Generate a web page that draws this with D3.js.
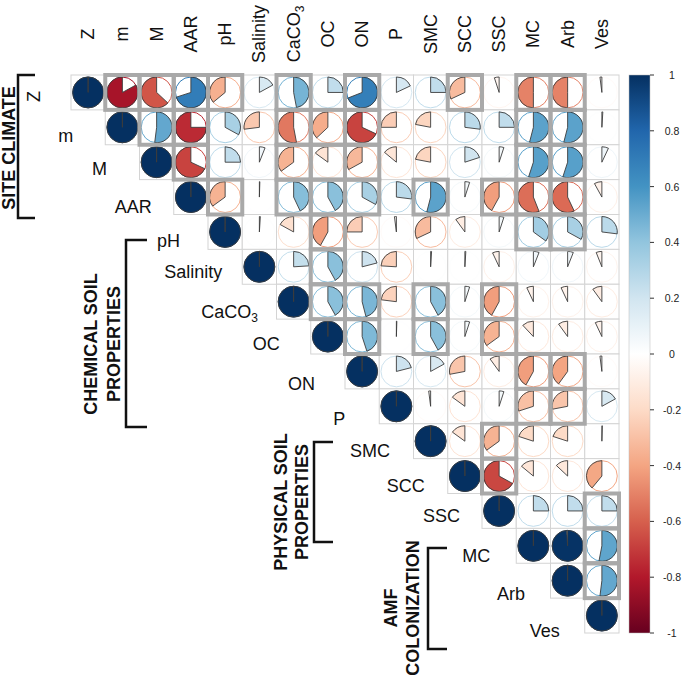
<!DOCTYPE html>
<html><head><meta charset="utf-8">
<script src="https://cdn.jsdelivr.net/npm/d3@7"></script>
<style>body{margin:0;background:#fff}text{font-family:"Liberation Sans",Arial,sans-serif}</style>
</head><body><svg id="c" width="683" height="681"></svg>
<script>
// ---------------- data ----------------
const vars = ["Z","m","M","AAR","pH","Salinity","CaCO3","OC","ON","P","SMC","SCC","SSC","MC","Arb","Ves"];
// upper-triangle correlations, each row starts on the diagonal
const rowZ    = [1, -0.83, -0.63, 0.70, -0.36, 0.17, 0.47, 0.25, 0.69, 0.18, 0.25, -0.32, -0.05, -0.50, -0.50, -0.02];
const rowm    = [1, 0.52, -0.75, 0.33, -0.27, -0.53, -0.37, -0.68, -0.25, -0.22, 0.27, 0.25, 0.54, 0.54, 0.01];
const rowM    = [1, -0.68, 0.25, 0.06, -0.35, -0.15, -0.33, -0.14, -0.22, 0.20, 0.05, 0.55, 0.55, 0.07];
const rowAAR  = [1, -0.35, 0.005, 0.43, 0.42, 0.33, 0.27, 0.54, 0.05, -0.42, -0.56, -0.57, -0.08];
const rowpH   = [1, 0.01, -0.17, -0.42, -0.25, -0.02, -0.32, -0.10, 0.05, 0.35, 0.33, 0.27];
const rowSal  = [1, 0.24, 0.42, 0.21, -0.24, 0.01, 0.01, -0.07, 0.06, 0.06, -0.06];
const rowCaCO3= [1, 0.42, 0.46, -0.23, 0.42, 0.05, -0.42, -0.07, -0.07, -0.10];
const rowOC   = [1, 0.45, 0.005, 0.42, 0.05, -0.35, -0.12, -0.10, -0.07];
const rowON   = [1, 0.21, 0.17, -0.28, -0.10, -0.42, -0.40, -0.02];
const rowP    = [1, -0.02, -0.15, 0.05, -0.30, -0.28, 0.17];
const rowSMC  = [1, -0.15, -0.35, -0.20, -0.20, 0.005];
const rowSCC  = [1, -0.67, -0.14, -0.13, -0.39];
const rowSSC  = [1, 0.25, 0.25, 0.25];
const rowMC   = [1, 0.99, 0.53];
const rowArb  = [1, 0.52];
const rowVes  = [1];
const rows = [rowZ,rowm,rowM,rowAAR,rowpH,rowSal,rowCaCO3,rowOC,rowON,rowP,rowSMC,rowSCC,rowSSC,rowMC,rowArb,rowVes];

// highlighted (boxed) cells, per row
const boxZ = ["m","M","AAR","pH","CaCO3","ON","SCC","MC","Arb"];
const boxm = ["M","AAR","CaCO3","OC","ON","MC","Arb"];
const boxM = ["AAR","CaCO3","OC","ON","MC","Arb"];
const boxAAR = ["pH","CaCO3","OC","ON","SMC","SSC","MC","Arb"];
const boxpH = ["OC","MC","Arb"];
const boxSal = ["OC"];
const boxCaCO3 = ["OC","ON","SMC","SSC"];
const boxOC = ["ON","SMC","SSC"];
const boxON = ["MC","Arb"];
const boxP = ["MC","Arb"];
const boxSMC = ["SSC"];
const boxSCC = ["SSC"];
const boxSSC = ["Ves"];
const boxMC = ["Ves"];
const boxArb = ["Ves"];
const boxVes = [];
const boxes = [boxZ,boxm,boxM,boxAAR,boxpH,boxSal,boxCaCO3,boxOC,boxON,boxP,boxSMC,boxSCC,boxSSC,boxMC,boxArb,boxVes];

const legendTicks = [1,0.8,0.6,0.4,0.2,0,-0.2,-0.4,-0.6,-0.8,-1];
const palette = ["#67001F","#B2182B","#D6604D","#F4A582","#FDDBC7","#FFFFFF","#D1E5F0","#92C5DE","#4393C3","#2166AC","#053061"];

const groups = [
  {lines:["SITE CLIMATE"]},
  {lines:["CHEMICAL SOIL","PROPERTIES"]},
  {lines:["PHYSICAL SOIL","PROPERTIES"]},
  {lines:["AMF","COLONIZATION"]}
];

// ---------------- layout ----------------
const labelGap = [0,32,32.5,22,28,20,18.5,31,30,34,23.5,23,22,26,25.5,25];
const labelDy  = [0,14.7,12.8,16,15,11,16,13.4,18.5,18.6,16,16,11,16,19,21];
const groupPos = [
  {x:[15], y:148},
  {x:[97,120], y:344},
  {x:[287,308], y:502},
  {x:[397,419], y:608}
];
const brackets = [
  {x1:35,x0:18,y0:75,y1:218},
  {x1:147,x0:126,y0:240,y1:427},
  {x1:333,x0:314,y0:442,y1:542},
  {x1:447,x0:428,y0:548,y1:649}
];

// ---------------- drawing ----------------
const svg = d3.select("#c");
svg.append("rect").attr("width",683).attr("height",681).attr("fill","#fff");

const x = d3.scaleBand().domain(vars).range([71,619]);
const y = d3.scaleBand().domain(vars).range([75,633]);
const bw = x.bandwidth(), bh = y.bandwidth();
const R = Math.min(bw,bh)*0.45;
const color = d3.scaleLinear().domain(d3.range(11).map(i=>-1+i*0.2)).range(palette).clamp(true);

const cells = [];
rows.forEach((row,i)=>row.forEach((r,k)=>{
  const j=i+k;
  cells.push({row:vars[i], col:vars[j], r, box: boxes[i].includes(vars[j])});
}));

const g = svg.append("g");
g.selectAll("rect.cell").data(cells).join("rect").attr("class","cell")
  .attr("x",d=>x(d.col)).attr("y",d=>y(d.row)).attr("width",bw).attr("height",bh)
  .attr("fill","#fff").attr("stroke","#d4d4d4").attr("stroke-width",1);

const cg = g.selectAll("g.pie").data(cells).join("g").attr("class","pie")
  .attr("transform",d=>`translate(${x(d.col)+bw/2},${y(d.row)+bh/2})`);
cg.append("circle").attr("r",R).attr("fill","none").attr("stroke",d=>color(d.r)).attr("stroke-width",1);
const arc = d3.arc().innerRadius(0).outerRadius(R).startAngle(0);
cg.append("path")
  .attr("d",d=>arc({endAngle: 2*Math.PI*Math.max(-0.9995,Math.min(0.9995,d.r))}))
  .attr("fill",d=>color(d.r)).attr("stroke","#3c3c3c").attr("stroke-width",0.9).attr("stroke-linejoin","round");

g.selectAll("rect.box").data(cells.filter(d=>d.box)).join("rect").attr("class","box")
  .attr("x",d=>x(d.col)).attr("y",d=>y(d.row)).attr("width",bw).attr("height",bh)
  .attr("fill","none").attr("stroke","#a9a9a9").attr("stroke-width",4);

// column labels
function addLabel(sel, v){
  if(v==="CaCO3"){ sel.text("CaCO"); sel.append("tspan").attr("font-size",12).attr("dy",4).text("3"); }
  else sel.text(v);
}
vars.forEach(v=>{
  const t = svg.append("text").attr("font-size",18).attr("fill","#111").attr("text-anchor","middle")
    .attr("transform",`translate(${x(v)+bw/2+6},34) rotate(-90)`);
  addLabel(t,v);
});
// row labels
vars.forEach((v,i)=>{
  if(i===0){
    svg.append("text").attr("font-size",18).attr("fill","#111").attr("text-anchor","middle")
      .attr("transform",`translate(40,${y(v)+bh/2+4}) rotate(-90)`).text(v);
    return;
  }
  const t = svg.append("text").attr("font-size",18).attr("fill","#111").attr("text-anchor","end")
    .attr("x",x(v)-labelGap[i]).attr("y",y(v)+bh/2+labelDy[i]);
  addLabel(t,v);
});

// group labels and brackets
groups.forEach((gr,k)=>{
  gr.lines.forEach((ln,li)=>{
    svg.append("text").attr("font-size",18).attr("font-weight","bold").attr("fill","#111")
      .attr("text-anchor","middle")
      .attr("transform",`translate(${groupPos[k].x[li]},${groupPos[k].y}) rotate(-90)`).text(ln);
  });
  const b = brackets[k];
  svg.append("path").attr("d",`M${b.x1},${b.y0}H${b.x0}V${b.y1}H${b.x1}`)
    .attr("fill","none").attr("stroke","#111").attr("stroke-width",2.5);
});

// colour legend
const ly = d3.scaleLinear().domain([-1,1]).range([633,75]);
const grad = svg.append("defs").append("linearGradient").attr("id","lg")
  .attr("x1",0).attr("y1",1).attr("x2",0).attr("y2",0);
palette.forEach((c,i)=>grad.append("stop").attr("offset",i/10).attr("stop-color",c));
svg.append("rect").attr("x",629).attr("y",ly(1)).attr("width",21).attr("height",ly(-1)-ly(1))
  .attr("fill","url(#lg)").attr("stroke","#bbb").attr("stroke-width",0.5);
legendTicks.forEach(t=>{
  svg.append("line").attr("x1",650).attr("x2",654).attr("y1",ly(t)).attr("y2",ly(t)).attr("stroke","#333").attr("stroke-width",1);
  svg.append("text").attr("x",672).attr("y",ly(t)+4).attr("font-size",10.5).attr("fill","#222")
    .attr("text-anchor","middle").text(String(+t.toFixed(1)));
});
</script></body></html>
